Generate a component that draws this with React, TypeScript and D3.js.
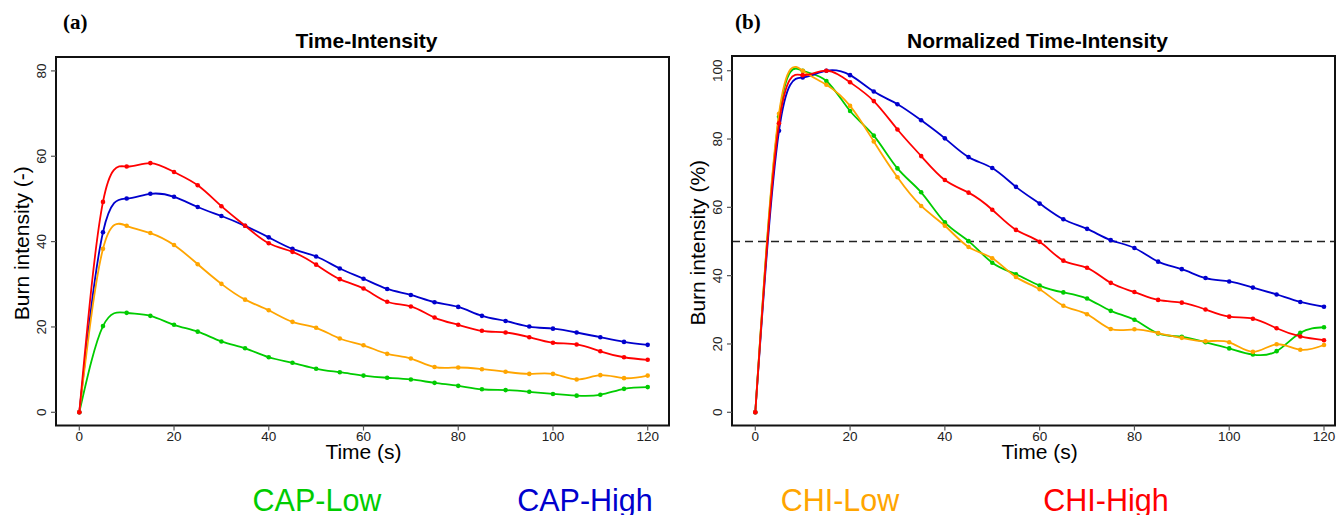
import React from "react";
import * as d3 from "d3";

// time points (s)
const times = [0, 5, 10, 15, 20, 25, 30, 35, 40, 45, 50, 55, 60, 65, 70, 75, 80, 85, 90, 95, 100, 105, 110, 115, 120];

// raw burn intensity (-)
const capLowRaw = [0, 20.2, 23.3, 22.6, 20.5, 18.9, 16.6, 15.0, 12.9, 11.6, 10.2, 9.4, 8.6, 8.1, 7.7, 6.9, 6.2, 5.4, 5.2, 4.8, 4.3, 3.9, 4.1, 5.5, 5.9];
const capHighRaw = [0, 42.2, 50.1, 51.2, 50.5, 48.1, 46.0, 43.7, 41.0, 38.3, 36.5, 33.7, 31.3, 28.9, 27.5, 25.8, 24.7, 22.6, 21.4, 20.1, 19.6, 18.7, 17.6, 16.5, 15.8];
const chiLowRaw = [0, 38.3, 43.7, 42.0, 39.2, 34.7, 30.1, 26.4, 23.9, 21.2, 19.8, 17.3, 15.7, 13.7, 12.6, 10.6, 10.5, 10.1, 9.5, 9.0, 9.0, 7.7, 8.7, 8.0, 8.6];
const chiHighRaw = [0, 49.3, 57.6, 58.4, 56.3, 53.2, 48.3, 43.7, 39.6, 37.6, 34.6, 31.2, 29.0, 25.9, 24.8, 22.2, 20.5, 19.1, 18.7, 17.6, 16.3, 15.9, 14.3, 12.9, 12.3];

// normalized burn intensity (%)
const capLowNorm = [0, 86.5, 100, 97.0, 88.2, 81.0, 71.4, 64.4, 55.6, 50.1, 43.8, 40.4, 37.1, 35.1, 33.3, 29.7, 27.1, 23.1, 22.1, 20.5, 18.7, 16.9, 17.9, 23.3, 24.9];
const capHighNorm = [0, 82.4, 98.0, 100, 98.7, 93.9, 90.2, 85.5, 80.2, 74.7, 71.5, 66.0, 61.1, 56.5, 53.7, 50.4, 48.1, 44.1, 41.9, 39.3, 38.3, 36.5, 34.5, 32.3, 30.9];
const chiLowNorm = [0, 87.4, 100, 95.9, 89.7, 79.3, 68.8, 60.4, 54.6, 48.4, 45.1, 39.6, 36.0, 31.2, 28.7, 24.4, 24.3, 23.2, 21.8, 20.8, 20.5, 17.7, 19.9, 18.3, 19.7];
const chiHighNorm = [0, 84.6, 98.7, 100, 96.6, 91.1, 82.8, 75.0, 68.0, 64.3, 59.3, 53.4, 49.9, 44.4, 42.3, 37.9, 35.2, 32.9, 32.1, 30.1, 28.0, 27.4, 24.6, 22.2, 21.1];

const groups = ["CAP-Low", "CAP-High", "CHI-Low", "CHI-High"];
const colors = ["#00CC00", "#0000CD", "#FFA500", "#FF0000"];

const xTicks = [0, 20, 40, 60, 80, 100, 120];
const yTicksRaw = [0, 20, 40, 60, 80];
const yTicksNorm = [0, 20, 40, 60, 80, 100];

const sans = "'Liberation Sans', Arial, sans-serif";

function Panel({ box, xr, yr, yMax, yTicks, series, title, tag, tagX, ylabel, refLine }) {
  const x = d3.scaleLinear().domain([0, 120]).range(xr);
  const y = d3.scaleLinear().domain([0, yMax]).range(yr);
  const line = d3.line<number>()
    .x((d, i) => x(times[i]))
    .y(d => y(d))
    .curve(d3.curveNatural);
  const cx = (xr[0] + xr[1]) / 2;

  return (
    <g>
      <text x={tagX} y={29} fontFamily="'Liberation Serif', 'Times New Roman', serif" fontWeight="bold" fontSize={21}>{tag}</text>
      <text x={(box.x0 + box.x1) / 2 + 4} y={48} textAnchor="middle" fontFamily={sans} fontWeight="bold" fontSize={21}>{title}</text>

      {refLine !== undefined && (
        <line x1={box.x0} x2={box.x1} y1={y(refLine)} y2={y(refLine)} stroke="#222" strokeWidth={1.6} strokeDasharray="8,5" />
      )}

      {series.map((s, k) => (
        <g key={k}>
          <path d={line(s)} fill="none" stroke={colors[k]} strokeWidth={1.8} />
          {s.map((v, i) => (
            <circle key={i} cx={x(times[i])} cy={y(v)} r={2.3} fill={colors[k]} />
          ))}
        </g>
      ))}

      <rect x={box.x0} y={box.y0} width={box.x1 - box.x0} height={box.y1 - box.y0} fill="none" stroke="#111" strokeWidth={2} />

      {xTicks.map(t => (
        <g key={t}>
          <line x1={x(t)} x2={x(t)} y1={box.y1} y2={box.y1 + 5} stroke="#555" strokeWidth={1.2} />
          <text x={x(t)} y={441} textAnchor="middle" fontFamily={sans} fontSize={13.5} fill="#222">{t}</text>
        </g>
      ))}
      {yTicks.map(t => (
        <g key={t}>
          <line x1={box.x0 - 5} x2={box.x0} y1={y(t)} y2={y(t)} stroke="#555" strokeWidth={1.2} />
          <text transform={`translate(${box.x0 - 10},${y(t)}) rotate(-90)`} textAnchor="middle" fontFamily={sans} fontSize={13.5} fill="#222">{t}</text>
        </g>
      ))}

      <text x={cx} y={458.5} textAnchor="middle" fontFamily={sans} fontSize={21}>Time (s)</text>
      <text transform={`translate(${box.x0 - 27},${(box.y0 + box.y1) / 2 + 2}) rotate(-90)`} textAnchor="middle" fontFamily={sans} fontSize={21}>{ylabel}</text>
    </g>
  );
}

export default function App() {
  const legendX = [317, 585, 840, 1106];
  return (
    <svg width={1337} height={515} style={{ position: "absolute", left: 0, top: 0, background: "#fff" }}>
      <Panel
        box={{ x0: 56, x1: 669, y0: 57, y1: 425.5 }}
        xr={[79.3, 647.7]}
        yr={[412.3, 70.9]}
        yMax={80}
        yTicks={yTicksRaw}
        series={[capLowRaw, capHighRaw, chiLowRaw, chiHighRaw]}
        title="Time-Intensity"
        tag="(a)"
        tagX={63}
        ylabel="Burn intensity (-)"
      />
      <Panel
        box={{ x0: 732, x1: 1335, y0: 56, y1: 425.5 }}
        xr={[755.3, 1324]}
        yr={[412.3, 70.7]}
        yMax={100}
        yTicks={yTicksNorm}
        series={[capLowNorm, capHighNorm, chiLowNorm, chiHighNorm]}
        title="Normalized Time-Intensity"
        tag="(b)"
        tagX={735}
        ylabel="Burn intensity (%)"
        refLine={50}
      />
      {groups.map((g, i) => (
        <text key={g} x={legendX[i]} y={511} textAnchor="middle" fontFamily={sans} fontSize={30.5} fill={colors[i]}>{g}</text>
      ))}
    </svg>
  );
}
